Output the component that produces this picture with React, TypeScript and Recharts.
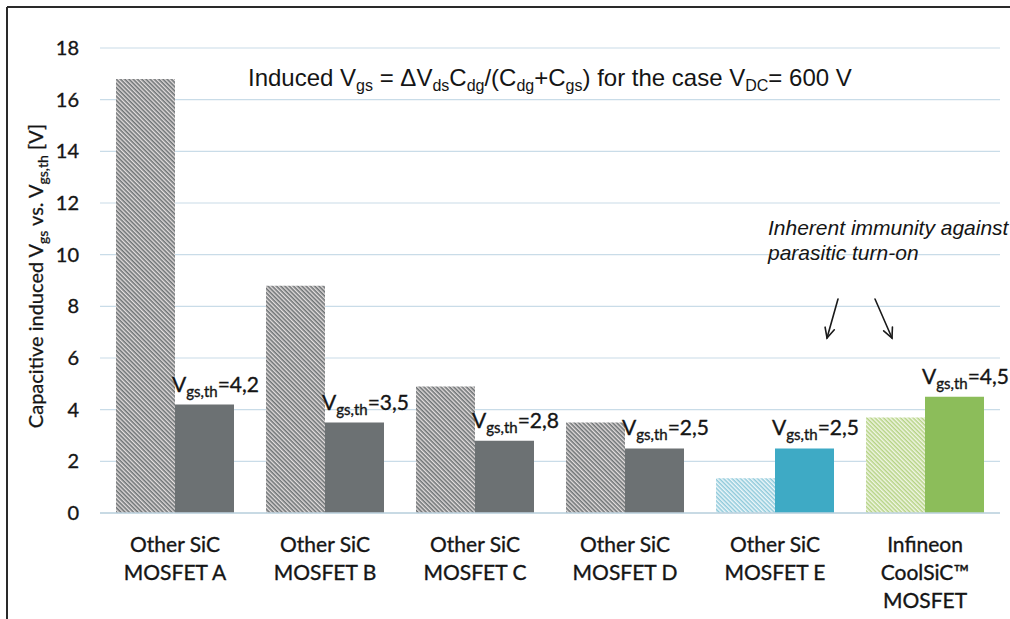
import React from 'react';
import { BarChart, Bar, XAxis, YAxis, CartesianGrid, Cell, LabelList } from 'recharts';

const categories = [
  'Other SiC\nMOSFET A',
  'Other SiC\nMOSFET B',
  'Other SiC\nMOSFET C',
  'Other SiC\nMOSFET D',
  'Other SiC\nMOSFET E',
  'Infineon\nCoolSiC™\nMOSFET',
];
const inducedVgs = [16.8, 8.8, 4.9, 3.5, 1.35, 3.7];
const thresholdVgs = [4.2, 3.5, 2.8, 2.5, 2.5, 4.5];
const yTicks = [0, 2, 4, 6, 8, 10, 12, 14, 16, 18];

const inducedFills = [
  'url(#hatchGray)',
  'url(#hatchGray)',
  'url(#hatchGray)',
  'url(#hatchGray)',
  'url(#hatchBlue)',
  'url(#hatchGreen)',
];
const thresholdFills = ['#6c7173', '#6c7173', '#6c7173', '#6c7173', '#3eaac5', '#8cbd5a'];

const data = categories.map((name, i) => ({
  name,
  induced: inducedVgs[i],
  threshold: thresholdVgs[i],
}));

const TEXT = '#151515';
const CAL = 'Lato, "Open Sans", sans-serif';
const ARIAL = '"Liberation Sans", Arial, sans-serif';

const XTick = (props: any) => {
  const { x, y, payload } = props;
  const lines = String(payload.value).split('\n');
  return (
    <text textAnchor="middle" fontFamily={CAL} fontSize={21} fill={TEXT} stroke={TEXT} strokeWidth={0.35}>
      {lines.map((l, i) => (
        <tspan key={i} x={x} y={Number(y) + 39 + i * 28}>
          {l}
        </tspan>
      ))}
    </text>
  );
};

const ThLabel = (props: any) => {
  const { x, y, value } = props;
  const v = String(value).replace('.', ',');
  return (
    <text x={Number(x) - 3} y={Number(y) - 13} fontFamily={CAL} fill={TEXT} stroke={TEXT} strokeWidth={0.35}>
      <tspan fontSize={21}>V</tspan>
      <tspan fontSize={15} dy={5}>gs,th</tspan>
      <tspan fontSize={21} dy={-5}>={v}</tspan>
    </text>
  );
};

const Arrow = ({ x1, y1, x2, y2 }: { x1: number; y1: number; x2: number; y2: number }) => {
  const ang = Math.atan2(y2 - y1, x2 - x1);
  const len = 11;
  const spread = 0.45;
  const ax = x2 - len * Math.cos(ang - spread);
  const ay = y2 - len * Math.sin(ang - spread);
  const bx = x2 - len * Math.cos(ang + spread);
  const by = y2 - len * Math.sin(ang + spread);
  return (
    <g stroke="#1a1a1a" strokeWidth={1.6} fill="none" strokeLinecap="round">
      <line x1={x1} y1={y1} x2={x2} y2={y2} />
      <polyline points={`${ax},${ay} ${x2},${y2} ${bx},${by}`} />
    </g>
  );
};

export default function App() {
  return (
    <div style={{ position: 'absolute', left: 0, top: 0, width: 1010, height: 619, background: '#fff' }}>
      <svg width={0} height={0} style={{ position: 'absolute' }}>
        <defs>
          <pattern id="hatchGray" patternUnits="userSpaceOnUse" width={3} height={3} patternTransform="rotate(45)">
            <rect width={3} height={3} fill="#e4dfdf" />
            <rect width={3} height={1.6} fill="#6e7375" />
          </pattern>
          <pattern id="hatchBlue" patternUnits="userSpaceOnUse" width={3} height={3} patternTransform="rotate(45)">
            <rect width={3} height={3} fill="#eef7fa" />
            <rect width={3} height={1.5} fill="#8ec9da" />
          </pattern>
          <pattern id="hatchGreen" patternUnits="userSpaceOnUse" width={3} height={3} patternTransform="rotate(45)">
            <rect width={3} height={3} fill="#f1f6e6" />
            <rect width={3} height={1.5} fill="#b5d384" />
          </pattern>
        </defs>
      </svg>
      <BarChart
        width={1010}
        height={619}
        data={data}
        margin={{ top: 48, right: 10, bottom: 0, left: 0 }}
        barCategoryGap={16}
        barGap={0}
      >
        <CartesianGrid vertical={false} stroke="#c9dce8" strokeWidth={1.2} />
        <XAxis
          dataKey="name"
          interval={0}
          height={106}
          tickLine={false}
          tickSize={0}
          tickMargin={0}
          axisLine={{ stroke: '#bfd3df', strokeWidth: 1.5 }}
          tick={<XTick />}
        />
        <YAxis
          width={100}
          domain={[0, 18]}
          ticks={yTicks}
          interval={0}
          axisLine={false}
          tickLine={false}
          tickSize={0}
          tickMargin={21}
          tick={{ fontFamily: CAL, fontSize: 20, fill: TEXT, stroke: TEXT, strokeWidth: 0.35 }}
        />
        <Bar dataKey="induced" isAnimationActive={false}>
          {data.map((d, i) => (
            <Cell key={i} fill={inducedFills[i]} />
          ))}
        </Bar>
        <Bar dataKey="threshold" isAnimationActive={false}>
          {data.map((d, i) => (
            <Cell key={i} fill={thresholdFills[i]} />
          ))}
          <LabelList dataKey="threshold" content={<ThLabel />} />
        </Bar>
      </BarChart>
      <svg
        width={1010}
        height={619}
        style={{ position: 'absolute', left: 0, top: 0, pointerEvents: 'none' }}
      >
        <line x1={7} y1={7} x2={1010} y2={7} stroke="#2a2a2a" strokeWidth={2} />
        <line x1={7} y1={7} x2={7} y2={619} stroke="#2a2a2a" strokeWidth={2} />
        <text x={248} y={86} fontFamily={ARIAL} fontSize={24} fill={TEXT}>
          <tspan>Induced V</tspan>
          <tspan fontSize={16} dy={5}>gs</tspan>
          <tspan dy={-5}> = ΔV</tspan>
          <tspan fontSize={16} dy={5}>ds</tspan>
          <tspan dy={-5}>C</tspan>
          <tspan fontSize={16} dy={5}>dg</tspan>
          <tspan dy={-5}>/(C</tspan>
          <tspan fontSize={16} dy={5}>dg</tspan>
          <tspan dy={-5}>+C</tspan>
          <tspan fontSize={16} dy={5}>gs</tspan>
          <tspan dy={-5}>) for the case V</tspan>
          <tspan fontSize={16} dy={5}>DC</tspan>
          <tspan dy={-5}>= 600 V</tspan>
        </text>
        <text fontFamily={ARIAL} fontSize={21} fontStyle="italic" fill={TEXT}>
          <tspan x={768} y={235}>Inherent immunity against</tspan>
          <tspan x={768} y={260}>parasitic turn-on</tspan>
        </text>
        <Arrow x1={838} y1={299} x2={827} y2={338} />
        <Arrow x1={875} y1={299} x2={892} y2={338} />
        <text
          transform="translate(43,276) rotate(-90)"
          textAnchor="middle"
          fontFamily={CAL}
          fontSize={20}
          fill={TEXT}
          stroke={TEXT}
          strokeWidth={0.3}
        >
          <tspan>Capacitive induced V</tspan>
          <tspan fontSize={14} dy={5}>gs</tspan>
          <tspan dy={-5}> vs. V</tspan>
          <tspan fontSize={14} dy={5}>gs,th</tspan>
          <tspan dy={-5}> [V]</tspan>
        </text>
      </svg>
    </div>
  );
}
